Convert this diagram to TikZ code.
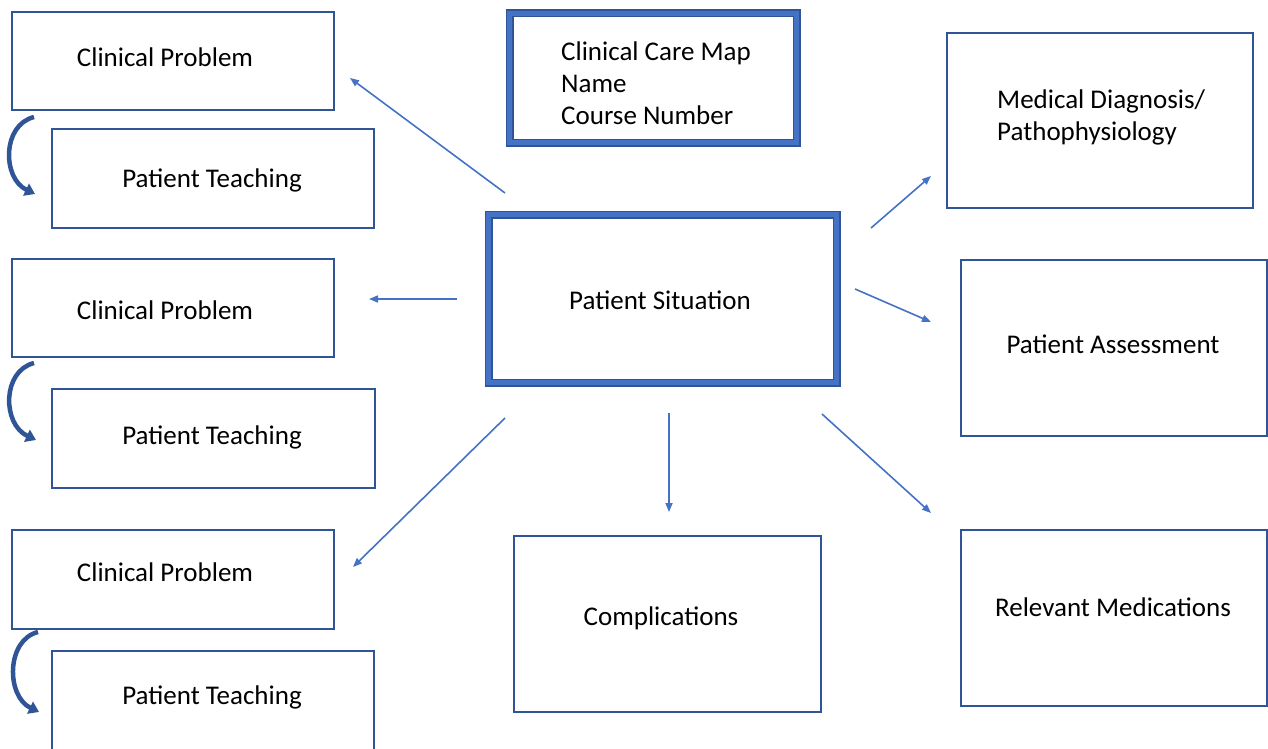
\documentclass[tikz,border=0pt]{standalone}
\usepackage{fontspec}
\setmainfont{Carlito}
\usetikzlibrary{arrows.meta}
\definecolor{bdark}{HTML}{2F5597}
\definecolor{bmid}{HTML}{4472C4}
\tikzset{
  box/.style={draw=bdark, line width=2.6pt, fill=white, inner sep=0pt},
  thickbox/.style={draw=bdark, line width=8pt, fill=white, inner sep=0pt,
    postaction={draw=bmid, line width=5pt}},
  lbl/.style={font=\fontsize{27}{32}\selectfont, inner sep=0pt},
  conn/.style={draw=bmid, line width=1.6pt, -{Triangle[length=9pt,width=7pt]}},
  curv/.style={draw=bdark, line width=4.5pt, -{Triangle[length=10pt,width=13pt]}},
}
\begin{document}
\begin{tikzpicture}[x=1pt,y=-1pt]
\useasboundingbox (0,0) rectangle (1268,749);
% left column
\node[box, minimum width=322pt, minimum height=98pt] (cp1) at (173,61) {};
\node[lbl] (cp1t) at (165,57) {Clinical Problem};
\node[box, minimum width=322pt, minimum height=99pt] (pt1) at (213,178.5) {};
\node[lbl] (pt1t) at (212,180) {Patient Teaching};
\node[box, minimum width=322pt, minimum height=98pt] (cp2) at (173,308) {};
\node[lbl] (cp2t) at (165,310) {Clinical Problem};
\node[box, minimum width=323pt, minimum height=99pt] (pt2) at (213.5,438.5) {};
\node[lbl] (pt2t) at (212,437) {Patient Teaching};
\node[box, minimum width=322pt, minimum height=99pt] (cp3) at (173,579.5) {};
\node[lbl] (cp3t) at (165,572) {Clinical Problem};
\node[box, minimum width=322pt, minimum height=110pt] (pt3) at (213,706) {};
\node[lbl] (pt3t) at (212,697) {Patient Teaching};
% title
\node[thickbox, minimum width=287pt, minimum height=129pt] (title) at (653,78) {};
\node[lbl, align=left, anchor=west] (titlet) at (561,83) {Clinical Care Map\\Name\\Course Number};
% center
\node[thickbox, minimum width=348pt, minimum height=168pt] (ps) at (662.5,298.5) {};
\node[lbl] (pst) at (660,300) {Patient Situation};
% right
\node[box, minimum width=306pt, minimum height=175pt] (md) at (1100,120.5) {};
\node[lbl, align=left, anchor=west] (mdt) at (997,117) {Medical Diagnosis/\\Pathophysiology};
\node[box, minimum width=306pt, minimum height=176pt] (pa) at (1114,348) {};
\node[lbl] (pat) at (1113,344) {Patient Assessment};
\node[box, minimum width=306pt, minimum height=176pt] (rm) at (1114,618) {};
\node[lbl] (rmt) at (1113,607) {Relevant Medications};
\node[box, minimum width=307pt, minimum height=176pt] (co) at (667.5,624) {};
\node[lbl] (cot) at (661,618) {Complications};
% connector endpoints
\coordinate (a1s) at (505,193); \coordinate (a1e) at (350,78);
\coordinate (a2s) at (457,299); \coordinate (a2e) at (369,299);
\coordinate (a3s) at (505,418); \coordinate (a3e) at (353,567);
\coordinate (a4s) at (669,413); \coordinate (a4e) at (669,512);
\coordinate (a5s) at (871,228); \coordinate (a5e) at (931,176);
\coordinate (a6s) at (855,289); \coordinate (a6e) at (931,322);
\coordinate (a7s) at (822,414); \coordinate (a7e) at (931,513);
\draw[conn] (a1s) -- (a1e);
\draw[conn] (a2s) -- (a2e);
\draw[conn] (a3s) -- (a3e);
\draw[conn] (a4s) -- (a4e);
\draw[conn] (a5s) -- (a5e);
\draw[conn] (a6s) -- (a6e);
\draw[conn] (a7s) -- (a7e);
% curved arrows
\coordinate (c1s) at (34,117); \coordinate (c1e) at (35,194);
\coordinate (c2s) at (34,363); \coordinate (c2e) at (36,440);
\coordinate (c3s) at (38,632); \coordinate (c3e) at (39,712);
\draw[curv] (c1s) .. controls (2,125) and (2,178) .. (c1e);
\draw[curv] (c2s) .. controls (2,371) and (2,424) .. (c2e);
\draw[curv] (c3s) .. controls (6,640) and (6,696) .. (c3e);
\end{tikzpicture}
\end{document}
